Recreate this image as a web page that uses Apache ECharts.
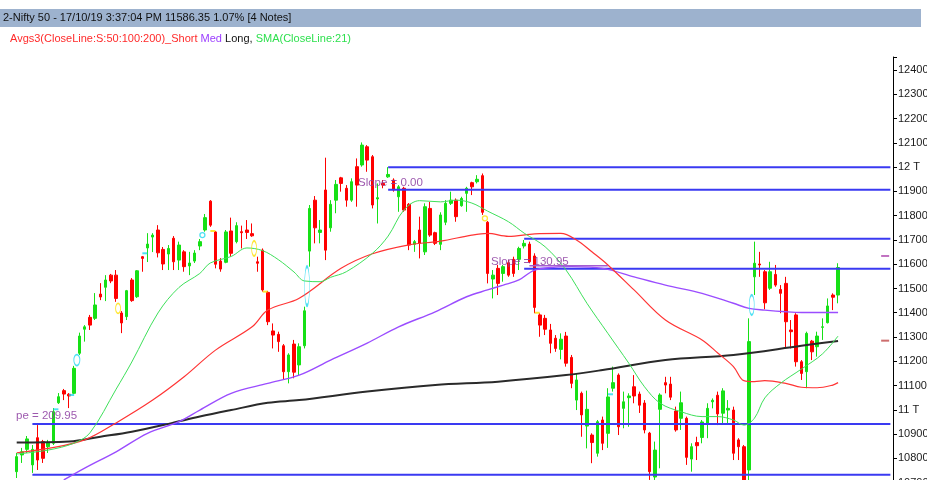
<!DOCTYPE html>
<html><head><meta charset="utf-8">
<script src="https://cdn.jsdelivr.net/npm/echarts@6/dist/echarts.min.js"></script>
<style>html,body{margin:0;padding:0;background:#fff}#c{width:927px;height:480px}</style>
</head><body><div id="c"></div>
<script>
// ---------- DATA ----------
const SLOT_COUNT = 168; // 158 trading days + empty right margin
const categories = Array.from({length: SLOT_COUNT}, (_, i) => 'D' + (i + 1));

// [open, close, low, high]
const ohlc = [
[10745,10807,10719,10822],[10814,10827,10781,10843],[10837,10880,10822,10892],[10773,10837,10740,10855],
[10885,10793,10752,10937],[10869,10800,10781,10876],[10848,10865,10822,10876],[10862,10992,10855,11007],
[11029,11054,11024,11069],[11079,11065,11040,11086],[11064,11057,11007,11069],[11068,11171,11065,11181],
[11233,11304,11226,11318],[11332,11342,11281,11349],[11381,11349,11329,11391],[11377,11432,11370,11481],
[11477,11465,11452,11522],[11505,11535,11448,11555],[11555,11531,11522,11560],[11555,11459,11445,11576],
[11399,11358,11316,11407],[11384,11491,11370,11494],[11535,11450,11445,11543],[11466,11573,11461,11576],
[11631,11624,11569,11634],[11667,11683,11609,11728],[11712,11720,11650,11728],[11741,11647,11628,11761],
[11661,11601,11576,11671],[11642,11665,11576,11679],[11707,11610,11576,11716],[11617,11679,11576,11693],
[11651,11590,11569,11658],[11593,11605,11555,11651],[11613,11646,11605,11658],[11675,11693,11658,11704],
[11741,11792,11734,11807],[11860,11761,11754,11864],[11733,11600,11583,11737],[11613,11580,11569,11625],
[11608,11733,11604,11741],[11737,11645,11631,11792],[11693,11759,11686,11773],[11734,11730,11665,11759],
[11741,11731,11704,11782],[11726,11717,11713,11768],[11610,11604,11569,11631],[11658,11494,11487,11665],
[11484,11363,11349,11490],[11325,11308,11253,11356],[11311,11281,11239,11322],[11264,11157,11123,11271],
[11157,11226,11109,11233],[11271,11155,11130,11288],[11185,11260,11143,11274],[11264,11408,11253,11425],
[11654,11830,11590,11844],[11864,11750,11686,11881],[11731,11741,11686,11782],[11906,11658,11617,12039],
[11750,11847,11734,11864],[11864,11929,11810,11947],[11956,11933,11899,11960],[11913,11864,11837,11926],
[11864,11940,11857,11954],[12002,11926,11837,12036],[12009,12091,12002,12102],[12084,12029,11981,12091],
[12043,11844,11830,12050],[11869,11874,11768,11933],[11933,11926,11913,11947],[11960,11970,11956,12000],
[11947,11906,11899,11954],[11878,11919,11816,11926],[11913,11823,11816,11919],[11847,11679,11658,11852],
[11682,11693,11651,11700],[11741,11686,11624,11796],[11651,11837,11638,11851],[11830,11720,11713,11857],
[11730,11686,11679,11734],[11682,11803,11658,11814],[11773,11851,11761,11864],[11851,11864,11844,11899],
[11864,11796,11775,11871],[11841,11871,11837,11878],[11892,11913,11816,11919],[11936,11919,11885,11940],
[11940,11950,11933,11967],[11965,11814,11803,11974],[11773,11562,11521,11778],[11539,11555,11459,11576],
[11583,11521,11473,11597],[11562,11590,11528,11597],[11606,11555,11548,11617],[11620,11562,11548,11631],
[11620,11665,11576,11672],[11675,11686,11665,11700],[11683,11610,11604,11693],[11634,11422,11398,11645],
[11391,11349,11301,11398],[11377,11332,11308,11391],[11329,11274,11233,11354],[11295,11253,11239,11308],
[11249,11291,11208,11315],[11304,11192,11178,11321],[11216,11109,11089,11226],[11040,11123,10999,11150],
[11068,10979,10889,11075],[10933,11002,10841,11079],[10896,10865,10780,10903],[10821,10951,10807,10958],
[10958,10862,10834,10972],[10903,11053,10843,11089],[11089,11112,11075,11178],[11143,10930,10896,11150],
[11006,11033,10924,11075],[11050,11057,10930,11068],[11095,11057,11027,11143],[11065,11019,10987,11075],
[11028,10917,10903,11040],[10904,10745,10711,10909],[10723,10834,10711,10869],[11002,11061,10759,11068],
[11112,11102,11068,11136],[11106,11052,11040,11136],[10995,10917,10910,11013],[10965,11029,10917,11075],
[10965,10804,10773,10972],[10797,10848,10745,10862],[10865,10852,10793,10889],[10886,10950,10862,10958],
[10942,11006,10883,11027],[11033,11039,11006,11047],[11060,10983,10937,11075],[10986,11078,10944,11089],
[10999,11006,10944,11040],[10999,10821,10793,11013],[10876,10848,10793,10883],[10848,10703,10670,10855],
[10752,11281,10690,11377],[11548,11604,11473,11693],[11601,11597,11548,11651],[11569,11441,11414,11576],
[11501,11569,11494,11610],[11558,11514,11507,11597],[11496,11480,11398,11514],[11521,11363,11253,11548],
[11329,11322,11253,11370],[11391,11198,11178,11398],[11198,11150,11123,11205],[11157,11315,11089,11322],
[11283,11239,11205,11288],[11260,11304,11219,11322],[11340,11342,11288,11377],[11359,11428,11356,11459],
[11473,11464,11411,11480],[11473,11586.35,11439,11604]
];

// moving averages, read at sample days: [dayIndex, value]
const sma21 = [[0,10818],[6,10834],[11,10863],[14,10905],[19,11085],[22,11197],[27,11399],[31,11504],
[35,11562],[37,11605],[41,11632],[44,11667],[47,11656],[50,11619],[53,11568],[55,11531],[58,11528],
[60,11546],[63,11569],[68,11645],[71,11716],[74,11823],[77,11862],[81,11857],[84,11864],[87,11852],
[90,11819],[94,11775],[97,11728],[101,11672],[105,11576],[109,11439],[113,11315],[117,11192],[120,11095],
[123,11027],[127,10992],[131,10972],[134,10972],[137,10958],[139,10937],[141,10965],[143,11049],
[146,11109],[150,11168],[154,11230],[157,11304]];
const sma50 = [[0,10823],[6,10841],[13,10876],[19,10946],[26,11040],[32,11136],[38,11246],[45,11342],
[48,11411],[54,11460],[62,11583],[68,11643],[75,11680],[81,11695],[87,11720],[90,11727],[94,11715],
[99,11725],[104,11727],[107,11700],[110,11650],[113,11597],[118,11494],[124,11370],[131,11288],
[134,11234],[137,11178],[139,11120],[141,11116],[143,11120],[147,11109],[150,11093],[153,11091],
[156,11102],[157,11112]];
const sma100 = [[9,10711],[13,10760],[19,10827],[25,10903],[31,10951],[35,10999],[41,11068],[48,11109],
[54,11143],[60,11205],[67,11275],[73,11342],[80,11404],[86,11466],[90,11494],[93,11514],[96,11535],
[99,11576],[103,11588],[106,11590],[112,11583],[118,11548],[124,11514],[131,11480],[137,11439],
[140,11418],[143,11411],[147,11404],[150,11401],[157,11401]];
const sma200 = [[0,10865],[10,10869],[16,10889],[22,10910],[29,10942],[35,10972],[41,10999],[48,11029],
[54,11040],[67,11075],[80,11102],[92,11116],[105,11143],[112,11164],[124,11205],[137,11226],
[150,11264],[157,11284]];

// horizontal level lines: [startDay, price]
const levels = [[71,12000],[71,11907],[97,11705],[97,11581],[3,10942],[3,10732]];
const slopeSegment = [[98,11594],[113,11594]];

// annotation markers: [dayIndex, price]
const cyanEllipses = [[11,11205],[55,11510],[140,11432]];
const cyanDots = [[35,11720]];
const cyanTicks = [[7,11002],[10,11061],[24,11645],[113,11064]];
const yellowEllipses = [[19,11418],[45,11665]];
const yellowDots = [[89,11789]];
const yellowTicks = [[37,11737],[47,11487],[99,11400]];
const priceTags = [[166,11634],[166,11285]];

const headerText = '2-Nifty 50 - 17/10/19 3:37:04 PM 11586.35 1.07% [4 Notes]';
const slopeTexts = ['Slope = 0.00', 'Slope = 130.95', 'pe = 209.95'];

// ---------- CHART ----------
const FONT = 'Liberation Sans';
const chart = echarts.init(document.getElementById('c'), null, {renderer: 'canvas'});

const lineS = (data, color, width, z) => ({
  type: 'line', data, showSymbol: false, smooth: 0.35, silent: true, z,
  lineStyle: {color, width}, animation: false
});
const levelSeries = levels.map(([d, v]) => ({
  type: 'line', data: [[d, v], [SLOT_COUNT - 1, v]], showSymbol: false, silent: true, z: 4,
  lineStyle: {color: '#3a3af2', width: 2}, animation: false
}));
const markS = (data, color, size, sym, filled, offset) => ({
  type: 'scatter', data, symbol: sym, symbolSize: size, symbolOffset: offset, silent: true, z: 6,
  itemStyle: filled ? {color} : {color: 'rgba(0,0,0,0)', borderColor: color, borderWidth: 1.3},
  animation: false
});
const cyanEllSizes = [[6, 11], [5, 39], [5, 20]];
const yelEllSizes = [[5, 10], [5, 15]];

const option = {
  animation: false,
  backgroundColor: '#ffffff',
  grid: {left: 14.08, width: 878.92, top: 57, height: 425.6, containLabel: false, outerBoundsMode: 'none'},
  xAxis: {
    type: 'category', data: categories, boundaryGap: true,
    axisLine: {show: false}, axisTick: {show: false}, axisLabel: {show: false}, splitLine: {show: false}
  },
  yAxis: {
    type: 'value', position: 'right', min: 10700, max: 12454, interval: 100,
    axisLine: {show: true, lineStyle: {color: '#000', width: 1}},
    axisTick: {show: true, length: 4, lineStyle: {color: '#000'}},
    splitLine: {show: false},
    axisLabel: {
      margin: 5, fontFamily: FONT, fontSize: 11, color: '#1a1a1a', hideOverlap: false,
      formatter: v => (Math.round(v) % 100 !== 0 ? '' : (v % 1000 === 0 ? (v / 1000) + ' T' : String(v)))
    }
  },
  series: [
    ...levelSeries,
    {
      type: 'candlestick', data: ohlc, barWidth: 3, z: 3, silent: true,
      itemStyle: {color: '#16e016', color0: '#ff0000', borderColor: '#16e016', borderColor0: '#ff0000', borderWidth: 1}
    },
    lineS(sma200, '#2a2a2a', 2, 5),
    lineS(sma100, '#9b4dff', 1.4, 5),
    lineS(sma50, '#ff3434', 1.2, 5),
    lineS(sma21, '#3ee05a', 1, 5),
    {type: 'line', data: slopeSegment, showSymbol: false, silent: true, z: 5,
     lineStyle: {color: '#a45cd0', width: 1.5}},
    markS(cyanEllipses, '#22d8f0', (v, p) => cyanEllSizes[p.dataIndex], 'circle', false, [2.6, 0]),
    markS(cyanDots, '#22d8f0', 5, 'circle', false, [2.6, 0]),
    markS(cyanTicks, '#22d8f0', [5, 2], 'rect', true, [2.6, 0]),
    markS(yellowEllipses, '#ffe000', (v, p) => yelEllSizes[p.dataIndex], 'circle', false, [2, 0]),
    markS(yellowDots, '#ffe000', 5, 'circle', false, [2.6, 0]),
    markS(yellowTicks, '#ffe000', [5, 2], 'rect', true, [2.6, 0]),
    {type: 'scatter', data: priceTags, symbol: 'rect', symbolSize: [8, 2], silent: true, z: 6,
     itemStyle: {color: (p) => p.dataIndex === 0 ? '#b04cb0' : '#c04848'}}
  ],
  graphic: [
    {type: 'rect', shape: {x: 0, y: 9, width: 921, height: 18}, style: {fill: '#9db2ce'}, z: 10},
    {type: 'text', x: 3, y: 18, z: 11, style: {text: headerText, font: '11px "' + FONT + '"', fill: '#111', verticalAlign: 'middle'}},
    {type: 'text', x: 10, y: 39, z: 11, style: {
      text: '{r|Avgs3(CloseLine:S:50:100:200)_Short} {p|Med} {k|Long,} {g|SMA(CloseLine:21)}',
      verticalAlign: 'middle', font: '11px "' + FONT + '"',
      rich: {
        r: {fill: '#ff2a2a', font: '11px "' + FONT + '"'},
        p: {fill: '#9b3dff', font: '11px "' + FONT + '"'},
        k: {fill: '#111', font: '11px "' + FONT + '"'},
        g: {fill: '#2ee04e', font: '11px "' + FONT + '"'}
      }
    }},
    {type: 'text', x: 358, y: 183, z: 11, style: {text: slopeTexts[0], font: '11.5px "' + FONT + '"', fill: 'rgba(140,60,160,0.85)', verticalAlign: 'middle'}},
    {type: 'text', x: 491, y: 262, z: 11, style: {text: slopeTexts[1], font: '11.5px "' + FONT + '"', fill: 'rgba(140,60,160,0.85)', verticalAlign: 'middle'}},
    {type: 'text', x: 16, y: 416, z: 11, style: {text: slopeTexts[2], font: '11.5px "' + FONT + '"', fill: 'rgba(140,60,160,0.85)', verticalAlign: 'middle'}}
  ]
};
chart.setOption(option);
</script>
</body></html>
